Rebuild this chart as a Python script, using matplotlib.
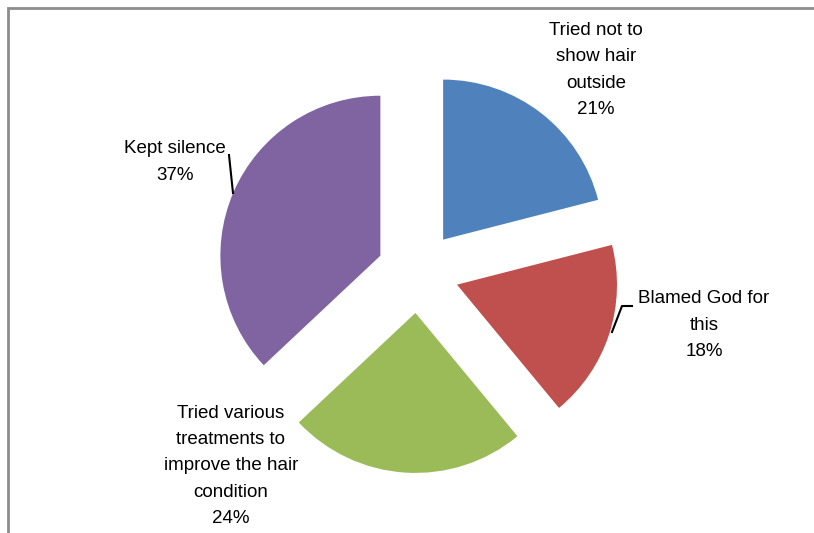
import matplotlib
matplotlib.use("Agg")
import matplotlib.pyplot as plt
from matplotlib.patches import Rectangle

# Data
labels = ["Tried not to\nshow hair\noutside", "Blamed God for\nthis",
          "Tried various\ntreatments to\nimprove the hair\ncondition", "Kept silence"]
shares = [21, 18, 24, 37]
colors = ["#4F81BD", "#C0504D", "#9BBB59", "#8064A2"]

W, H = 814, 533
fig = plt.figure(figsize=(W / 100, H / 100), dpi=100)
ax = fig.add_axes([0, 0, 1, 1])

cx, cy, r = 418, H - 272, 160
# explode is in data units here (radius is in pixels)
ax.pie(shares, colors=colors, startangle=90, counterclock=False,
       explode=[41] * 4, radius=r, center=(cx, cy),
       wedgeprops=dict(linewidth=0))
ax.set_xlim(0, W)
ax.set_ylim(0, H)
ax.set_aspect("equal")
ax.axis("off")

font = dict(family=["Liberation Sans", "DejaVu Sans"], fontsize=13.5,
            ha="center", va="center", linespacing=1.72)
label_pos = [(596, 70), (704, 325), (231, 466), (175, 162)]
for lab, val, (x, y) in zip(labels, shares, label_pos):
    ax.text(x, H - y, f"{lab}\n{val}%", **font)

# leader lines
ax.plot([632, 622, 612], [H - 306, H - 306, H - 332], color="black", lw=1.5)
ax.plot([229, 233], [H - 155, H - 193], color="black", lw=1.5)

# chart border
fig.patches.append(Rectangle((8 / W, -0.1), 1.2, 1 - 8 / H + 0.1,
                             transform=fig.transFigure, fill=False,
                             edgecolor="#8c8c8c", lw=2))

fig.savefig("out.png", dpi=100)
